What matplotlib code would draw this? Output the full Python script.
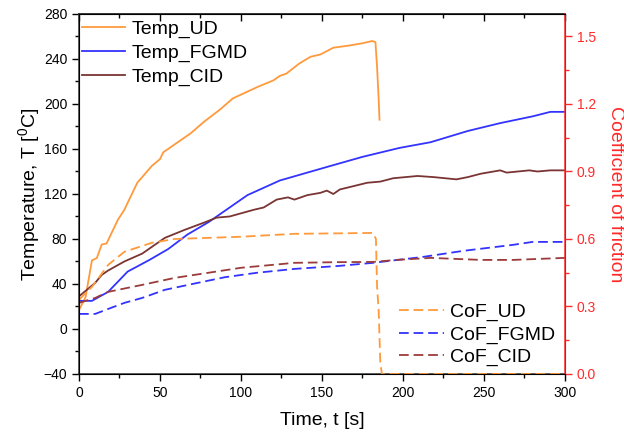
import matplotlib
matplotlib.use('Agg')
import matplotlib.pyplot as plt
from matplotlib.ticker import MultipleLocator

plt.rcParams['font.family'] = ['Liberation Sans', 'DejaVu Sans']
plt.rcParams['lines.scale_dashes'] = False

# Temperatuur (linker as)
t_ud = [0, 4, 8, 11, 14, 17, 24, 28, 36, 45, 50, 52, 60, 69, 77, 87, 95, 110, 120, 124,
        128, 136, 143, 149, 157, 167, 175, 181, 183, 184, 185, 185.5]
temp_ud = [17, 28, 61, 63, 75, 76, 97, 106, 130, 145, 151, 157, 165, 174, 184, 195, 205,
           215, 221, 225, 227, 236, 242, 244, 250, 252, 254, 256, 255, 233, 204, 186]

t_fgmd = [0, 8, 18, 30, 43, 55, 67, 80, 93, 104, 124, 153, 175, 198, 217, 240, 260,
          280, 291, 300]
temp_fgmd = [25, 25, 33, 51, 61, 71, 84, 95, 108, 119, 132, 144, 153, 161, 166, 176,
             183, 189, 193, 193]

t_cid = [0, 10, 14, 18, 28, 39, 53, 65, 78, 85, 93, 108, 114, 122, 129, 133, 141, 149,
         153, 157, 161, 178, 186, 194, 209, 219, 233, 240, 248, 260, 264, 278, 283, 291, 300]
temp_cid = [29, 41, 48, 52, 60, 67, 81, 88, 95, 99, 100, 106, 108, 115, 117, 115, 119,
            121, 123, 120, 124, 130, 131, 134, 136, 135, 133, 135, 138, 141, 139, 141,
            140, 141, 141]

# Wrijvingscoefficient (rechter as)
c_ud = [0, 8, 18, 28, 45, 59, 80, 100, 133, 160, 181.5, 183.3, 184, 185, 186, 187, 200, 250, 300]
cof_ud = [0.33, 0.387, 0.485, 0.543, 0.583, 0.60, 0.605, 0.61, 0.623, 0.625, 0.627,
          0.60, 0.39, 0.28, 0.05, 0.0, 0.0, 0.0, 0.0]

c_fgmd = [0, 10, 18, 28, 39, 53, 70, 90, 110, 133, 160, 181.5, 212, 237, 268, 280, 300]
cof_fgmd = [0.267, 0.267, 0.289, 0.316, 0.338, 0.374, 0.40, 0.43, 0.45, 0.467, 0.48,
            0.494, 0.52, 0.547, 0.574, 0.587, 0.587]

c_cid = [0, 10, 18, 39, 59, 80, 100, 133, 160, 181.5, 196, 217, 248, 268, 300]
cof_cid = [0.316, 0.338, 0.365, 0.396, 0.427, 0.45, 0.472, 0.494, 0.497, 0.498, 0.507,
           0.516, 0.507, 0.507, 0.516]

oranje = '#FF9A3C'
blauw = '#3333FF'
bruin_lijn = '#7A3434'
bruin_stip = '#9B3B3B'
rood = '#FF2A2A'

fig = plt.figure(figsize=(6.24, 4.33), dpi=100)
ax = fig.add_axes([0.1266, 0.1363, 0.7788, 0.8314])

ax.plot(t_ud, temp_ud, color=oranje, lw=1.3, label='Temp_UD')
ax.plot(t_fgmd, temp_fgmd, color=blauw, lw=1.3, label='Temp_FGMD')
ax.plot(t_cid, temp_cid, color=bruin_lijn, lw=1.3, label='Temp_CID')

ax.set_xlim(0, 300)
ax.set_ylim(-40, 280)
ax.xaxis.set_major_locator(MultipleLocator(50))
ax.xaxis.set_minor_locator(MultipleLocator(25))
ax.yaxis.set_major_locator(MultipleLocator(40))
ax.yaxis.set_minor_locator(MultipleLocator(20))
ax.tick_params(axis='both', which='major', direction='out', length=5, width=1,
               labelsize=10)
ax.tick_params(axis='both', which='minor', direction='out', length=3, width=1)
for sp in ['left', 'bottom', 'top']:
    ax.spines[sp].set_linewidth(1.1)
    ax.spines[sp].set_color('#333333')

# Bovenste as: ticks naar binnen, geen labels
top = ax.secondary_xaxis('top')
top.xaxis.set_major_locator(MultipleLocator(50))
top.xaxis.set_minor_locator(MultipleLocator(25))
top.tick_params(which='major', direction='in', length=5, width=1, labeltop=False)
top.tick_params(which='minor', direction='in', length=3, width=1)
top.spines['top'].set_linewidth(1.1)
top.spines['top'].set_color('#333333')

ax.set_xlabel('Time, t [s]', fontsize=14, labelpad=9)
ax.set_ylabel('Temperature, T [$\\mathregular{^0}$C]', fontsize=14, labelpad=1)

ax.legend(loc='upper left', frameon=False, fontsize=14, handlelength=2.2,
          handletextpad=0.35, labelspacing=0.32, borderaxespad=0.0,
          bbox_to_anchor=(-0.01, 1.005))

ax2 = ax.twinx()
ax2.plot(c_ud, cof_ud, color=oranje, lw=1.3, ls='--', dashes=(7, 3.5), label='CoF_UD')
ax2.plot(c_fgmd, cof_fgmd, color=blauw, lw=1.3, ls='--', dashes=(7, 3.5), label='CoF_FGMD')
ax2.plot(c_cid, cof_cid, color=bruin_stip, lw=1.3, ls='--', dashes=(7, 3.5), label='CoF_CID')
ax2.set_ylim(0, 1.6)
ax2.yaxis.set_major_locator(MultipleLocator(0.3))
ax2.yaxis.set_minor_locator(MultipleLocator(0.15))
ax2.yaxis.set_major_formatter(plt.FormatStrFormatter('%.1f'))
ax2.tick_params(axis='y', which='major', direction='out', length=5, width=1,
                colors=rood, labelsize=10)
ax2.tick_params(axis='y', which='minor', direction='out', length=3, width=1, colors=rood)
ax2.spines['right'].set_color(rood)
ax2.spines['right'].set_linewidth(1.1)
ax2.set_ylabel('Coefficient of friction', color=rood, fontsize=14, rotation=270,
               labelpad=20)

ax2.legend(loc='lower right', frameon=False, fontsize=14, handlelength=2.3,
           handletextpad=0.28, labelspacing=0.25, borderaxespad=0.0,
           bbox_to_anchor=(0.995, 0.0))

fig.savefig('out.png', dpi=100)
